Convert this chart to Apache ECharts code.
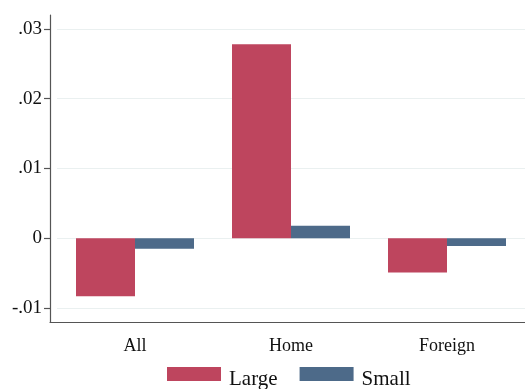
<!DOCTYPE html>
<html>
<head>
<meta charset="utf-8">
<script src="https://cdn.jsdelivr.net/npm/echarts@6/dist/echarts.min.js"></script>
<style>
html,body{margin:0;padding:0;background:#fff;}
#chart{width:525px;height:389px;}
</style>
</head>
<body>
<div id="chart"></div>
<script>
// Effect estimates by market, split by firm size
var categories = ['All', 'Home', 'Foreign'];
var largeValues = [-0.0083, 0.0278, -0.0049];
var smallValues = [-0.0015, 0.0018, -0.0011];
var yTicks = [-0.01, 0, 0.01, 0.02, 0.03];
var yMin = -0.012, yMax = 0.032;

var FONT = 'Liberation Serif';
var AXIS_COLOR = '#555555';

function fmtTick(v) {
  if (Math.abs(v) < 1e-12) return '0';
  var s = (Math.round(v * 100) / 100).toFixed(2);
  return s.replace(/^(-?)0\./, '$1.');
}

var chart = echarts.init(document.getElementById('chart'), null, {renderer: 'canvas'});
chart.setOption({
  animation: false,
  backgroundColor: '#ffffff',
  // grid 0 carries the frame (axis lines, ticks, labels);
  // grid 1 is inset slightly and holds the bars and category labels.
  grid: [
    {left: 50, right: -7, top: 15, bottom: 67, containLabel: false},
    {left: 57, right: -7, top: 15, bottom: 67, containLabel: false}
  ],
  legend: {
    data: ['Large', 'Small'],
    left: 167, top: 367, padding: 0,
    itemWidth: 54, itemHeight: 14, itemGap: 22,
    icon: 'rect',
    formatter: '{t|{name}}',
    textStyle: {
      fontFamily: FONT, fontSize: 21, color: '#111',
      rich: {t: {fontFamily: FONT, fontSize: 21, color: '#111', padding: [11, 0, 0, 3]}}
    }
  },
  xAxis: [
    {
      gridIndex: 0, type: 'value', min: 0, max: 1,
      axisLine: {show: true, onZero: false, lineStyle: {color: AXIS_COLOR, width: 1.2}},
      axisTick: {show: false}, axisLabel: {show: false}, splitLine: {show: false}
    },
    {
      gridIndex: 1, type: 'category', data: categories,
      axisLine: {show: false, onZero: false},
      axisTick: {show: false},
      axisLabel: {fontFamily: FONT, fontSize: 18, color: '#111', margin: 15}
    }
  ],
  yAxis: [
    {
      gridIndex: 0, type: 'value', min: yMin, max: yMax,
      axisLine: {show: true, lineStyle: {color: AXIS_COLOR, width: 1.2}},
      axisTick: {show: true, length: 6, lineStyle: {color: AXIS_COLOR, width: 1.2},
        customValues: yTicks},
      axisLabel: {fontFamily: FONT, fontSize: 19, color: '#111', margin: 8,
        customValues: yTicks, formatter: fmtTick},
      splitLine: {show: false}
    },
    {
      gridIndex: 1, type: 'value', min: yMin, max: yMax, show: false,
      splitLine: {show: false}
    }
  ],
  series: [
    {
      name: 'Large', type: 'bar', data: largeValues,
      xAxisIndex: 1, yAxisIndex: 1,
      barWidth: 59, barGap: '0%',
      itemStyle: {color: '#be455e'},
      markLine: {
        silent: true, symbol: 'none', label: {show: false},
        lineStyle: {color: '#eaf0f0', type: 'solid', width: 1},
        data: yTicks.map(function (v) { return {yAxis: v}; }),
        z: 0
      },
      z: 3
    },
    {
      name: 'Small', type: 'bar', data: smallValues,
      xAxisIndex: 1, yAxisIndex: 1,
      barWidth: 59, barGap: '0%',
      itemStyle: {color: '#4d6a89'},
      z: 3
    }
  ]
});
</script>
</body>
</html>
